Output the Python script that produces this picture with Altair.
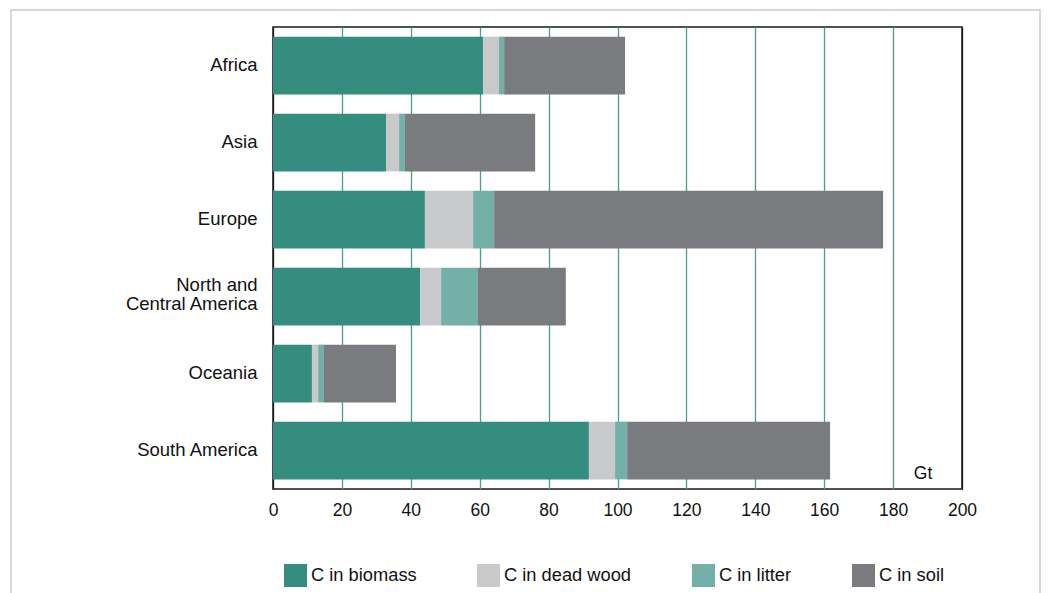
import altair as alt
import pandas as pd

regions = ["Africa", "Asia", "Europe", "North and Central America", "Oceania", "South America"]
components = ["C in biomass", "C in dead wood", "C in litter", "C in soil"]
biomass = [61.0, 32.8, 44.1, 42.7, 11.3, 91.7]
dead_wood = [4.6, 3.8, 14.0, 6.1, 1.8, 7.6]
litter = [1.5, 1.7, 6.1, 10.7, 1.7, 3.5]
soil = [35.1, 37.8, 112.9, 25.5, 20.9, 58.9]
colors = ["#358d80", "#c8c9cb", "#73b0a7", "#7a7b7f"]
x_ticks = [0, 20, 40, 60, 80, 100, 120, 140, 160, 180, 200]
unit_label = "Gt"

rows = []
for series_i, series in enumerate([biomass, dead_wood, litter, soil]):
    for r, v in zip(regions, series):
        rows.append({"region": r, "component": components[series_i], "order": series_i, "value": v})
df = pd.DataFrame(rows)
one = pd.DataFrame({"k": [0]})

FONT = "Liberation Sans"
W, H = 689, 462
SP = "\u2005"

bars = alt.Chart(df).mark_bar().encode(
    x=alt.X(
        "sum(value):Q",
        scale=alt.Scale(domain=[0, 200], nice=False, zero=True),
        axis=alt.Axis(
            values=x_ticks, title=None, grid=True, ticks=False, domain=False, labelFlush=False,
            gridColor={"condition": {"test": "datum.value == 0 || datum.value == 200", "value": "#1a1a1a"},
                       "value": "#4a9d90"},
            gridWidth=1.3, labelPadding=12, labelFontSize=17.5, labelColor="#111",
            labelFont=FONT,
        ),
    ),
    y=alt.Y(
        "region:N", sort=regions,
        scale=alt.Scale(paddingInner=0.25, paddingOuter=0.125),
        axis=alt.Axis(
            title=None, ticks=False, domain=False, labelPadding=16, labelFontSize=18.5,
            labelColor="#111", labelFont=FONT, labelLimit=400, labelLineHeight=19,
            labelOffset={"condition": {"test": "datum.value == 'North and Central America'", "value": -12},
                         "value": -1},
            labelExpr="datum.label == 'North and Central America' ? ['North and" + SP + "', 'Central America'] : datum.label",
        ),
    ),
    color=alt.Color(
        "component:N",
        scale=alt.Scale(domain=components, range=colors),
        legend=alt.Legend(
            title=None, orient="none", legendX=11, legendY=537, direction="horizontal",
            columns=4, columnPadding=60, symbolType="square", symbolSize=529,
            symbolStrokeWidth=0, labelFontSize=18.3, labelFont=FONT, labelColor="#111",
            labelOffset=4, padding=0, symbolOpacity=1,
        ),
    ),
    order=alt.Order("order:Q", sort="ascending"),
)

frame_box = alt.Chart(one).mark_rect(fill=None, stroke="#cccccc", strokeWidth=1.5).encode(
    x=alt.value(-262), x2=alt.value(767), y=alt.value(-17), y2=alt.value(620)
)

unit = alt.Chart(one).mark_text(
    text=unit_label, fontSize=17.5, font=FONT, color="#111", align="center", baseline="alphabetic"
).encode(x=alt.datum(188.7), y=alt.value(452))

chart = alt.layer(frame_box, bars, unit).properties(
    width=W, height=H,
    autosize=alt.AutoSizeParams(type="none"),
    padding={"left": 265, "top": 19, "right": 79, "bottom": 104},
).configure_view(stroke="#1a1a1a", strokeWidth=1.5)

chart.save("out.html", embed_options={"renderer": "svg", "actions": False})
